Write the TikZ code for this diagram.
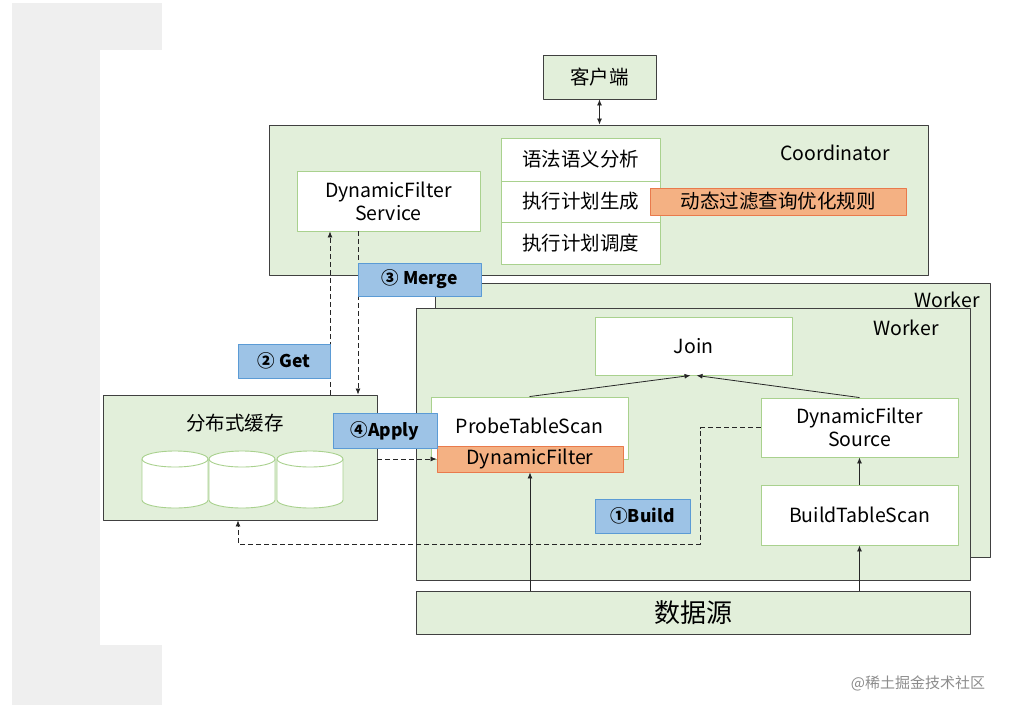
\documentclass[tikz,border=0pt]{standalone}
\usepackage{fontspec}
\setmainfont{Noto Sans CJK SC}
\usetikzlibrary{arrows.meta}
\definecolor{paleg}{HTML}{E2EFDA}
\definecolor{lineg}{HTML}{A9D18E}
\definecolor{blueb}{HTML}{9DC3E6}
\definecolor{bluel}{HTML}{5B9BD5}
\definecolor{orng}{HTML}{F4B183}
\definecolor{orngl}{HTML}{E97A4C}
\definecolor{bgray}{HTML}{EFEFEF}

\begin{document}
\begin{tikzpicture}[x=1pt, y=-1pt, line join=round,
    every node/.style={inner sep=0pt, font=\fontsize{19.5}{23}\selectfont},
    frame/.style={draw=black!75, fill=paleg, line width=0.9pt},
    wbox/.style={draw=lineg, fill=white, line width=0.9pt, align=center},
    steplabel/.style={draw=bluel, fill=blueb, line width=0.9pt, font=\fontsize{17.5}{20}\selectfont\bfseries},
    hot/.style={draw=orngl, fill=orng, line width=0.9pt},
    flow/.style={-{Latex[length=6pt,width=5pt]}, line width=0.8pt, black!85},
    dflow/.style={flow, dashed, dash pattern=on 5pt off 3pt}]
        \useasboundingbox (0,0) rectangle (1019,713);
        % page background
        \fill[bgray] (12,3) rectangle (162,705);
        \fill[white] (100,50) rectangle (162,645);

        % client and coordinator
        \node[frame, minimum width=113, minimum height=44] (client) at (599.5,77) {客户端};
        \node[frame, minimum width=659, minimum height=150] (coord) at (598.5,200) {};
        \node at (835,153) {Coordinator};
        \node[wbox, minimum width=183, minimum height=60] (dfservice) at (388.5,201) {DynamicFilter\\Service};
        \node[wbox, minimum width=159, minimum height=43] (parse) at (580.5,159.5) {语法语义分析};
        \node[wbox, minimum width=159, minimum height=41] (plan) at (580.5,201.5) {执行计划生成};
        \node[wbox, minimum width=159, minimum height=42] (sched) at (580.5,243) {执行计划调度};
        \node[hot, minimum width=256, minimum height=27] (rule) at (778,201.5) {动态过滤查询优化规则};
        \draw[{Latex[length=6pt,width=5pt]}-{Latex[length=6pt,width=5pt]}, line width=0.8pt, black!85] (client) -- (client|-coord.north);

        % workers
        \node[frame, minimum width=555, minimum height=274] (workerb) at (712.5,420) {};
        \node at (947,300) {Worker};
        \node[frame, minimum width=554, minimum height=272] (workerf) at (693,444) {};
        \node at (906,328) {Worker};
        \node[wbox, minimum width=197, minimum height=58] (join) at (693.5,346) {Join};
        \node[wbox, minimum width=197, minimum height=62] (probe) at (529.5,428) {};
        \node at (529.5,426) {ProbeTableScan};
        \node[hot, minimum width=186, minimum height=26] (dfilter) at (530,459) {DynamicFilter};
        \node[wbox, minimum width=197, minimum height=59] (dfsource) at (859.5,427.5) {DynamicFilter\\Source};
        \node[wbox, minimum width=197, minimum height=60] (buildscan) at (859.5,515) {BuildTableScan};
        \node[frame, minimum width=554, minimum height=43, font=\fontsize{26}{28}\selectfont] (source) at (693,612.5) {数据源};

        % distributed cache
        \node[frame, minimum width=274, minimum height=125] (cache) at (240,457.5) {};
        \node at (235,423) {分布式缓存};
        \foreach \cx in {175,242,310} {
            \draw[draw=lineg, fill=white, line width=0.9pt] (\cx-33,459) -- (\cx-33,500)
                arc[start angle=180, end angle=0, x radius=33, y radius=8] -- (\cx+33,459)
                arc[start angle=0, end angle=-180, x radius=33, y radius=8] -- cycle;
            \draw[draw=lineg, line width=0.9pt] (\cx-33,459) arc[start angle=180, end angle=0, x radius=33, y radius=8];
        }

        % data flow inside worker
        \draw[flow] (probe.north) -- ([xshift=-3pt]join.south);
        \draw[flow] (dfsource.north) -- ([xshift=3pt]join.south);
        \draw[flow] (source.north-|dfilter) -- (dfilter.south);
        \draw[flow] (source.north-|buildscan) -- (buildscan.south);
        \draw[flow] (buildscan.north) -- (dfsource.south);

        % dynamic filter steps
        \coordinate (getx) at (330,0);
        \coordinate (mergex) at (358,0);
        \coordinate (buildx) at (238,0);
        \draw[dflow] (cache.north-|getx) -- (dfservice.south-|getx);
        \draw[dflow] (dfservice.south-|mergex) -- (cache.north-|mergex);
        \draw[dflow] (cache.east|-dfilter) -- (dfilter.west);
        \coordinate (bend) at (700,544);
        \draw[dflow] (dfsource.west) -| (bend) -- (bend-|buildx) -- (cache.south-|buildx);

        % step labels
        \node[steplabel, minimum width=123, minimum height=33] (merge) at (419.5,279.5) {③ Merge};
        \node[steplabel, minimum width=92, minimum height=34] (get) at (284,361) {② Get};
        \node[steplabel, minimum width=104, minimum height=35] (apply) at (385,430.5) {④Apply};
        \node[steplabel, minimum width=95, minimum height=34] (build) at (642.5,516) {①Build};

        % watermark
        \node[text=black!45, font=\fontsize{15}{17}\selectfont] (mark) at (918,683) {@稀土掘金技术社区};
\end{tikzpicture}
\end{document}
